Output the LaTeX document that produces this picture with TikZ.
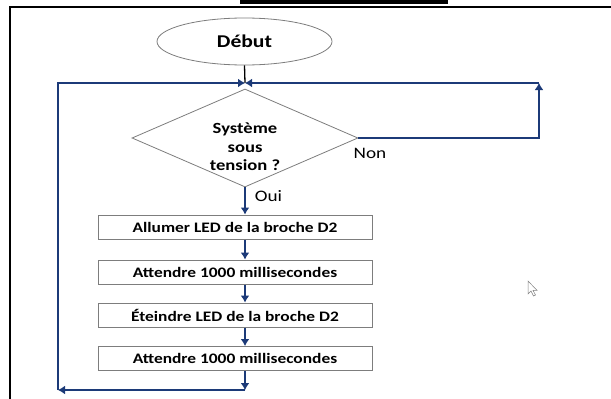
\documentclass[tikz,border=0pt]{standalone}
\usepackage{fontspec}
\setmainfont{Carlito}[FakeStretch=1.2]
\usetikzlibrary{arrows.meta,shapes.geometric}
\definecolor{fleche}{RGB}{28,58,120}
\definecolor{bord}{RGB}{125,125,125}

\begin{document}
\begin{tikzpicture}[x=1pt,y=-1pt]

    % --- Styles ---
    % Tout en points, y vers le bas comme sur la capture
    \tikzset{
        start/.style={draw=bord, ellipse, line width=0.8pt, minimum width=175pt, minimum height=47pt, font=\fontsize{18}{20}\selectfont\bfseries},
        decision/.style={draw=bord, diamond, line width=0.8pt, minimum width=226pt, minimum height=98pt, inner sep=0pt},
        question/.style={font=\fontsize{15.5}{18.5}\selectfont\bfseries, align=center},
        process/.style={draw=bord, line width=1pt, minimum width=274pt, minimum height=24pt, inner sep=0pt, font=\fontsize{14.5}{16}\selectfont\bfseries},
        wire/.style={draw=fleche, line width=2pt},
        flow/.style={wire, -{Latex[length=7pt,width=9pt]}},
        answer/.style={font=\fontsize{16}{18}\selectfont}
    }

    \useasboundingbox (0,0) rectangle (611,399);

    % --- 1. Cadre ---
    \fill (240,0) rectangle (448,4);
    \draw[line width=1.5pt] (10,399) -- (10,7) -- (611,7);

    % --- 2. Blocs ---
    \node[start] (debut) at (244.5,41.5) {Début};
    \coordinate (jn) at (245,83);

    \node[decision] (test) at (245,138) {};
    \node[question] (testtext) at (245,147) {Système\\sous\\tension ?};

    \node[process] (box1) at (235,227) {Allumer LED de la broche D2};
    \node[process] (box2) at (235,272) {Attendre 1000 millisecondes};
    \node[process] (box3) at (235,315) {Éteindre LED de la broche D2};
    \node[process] (box4) at (235,358.5) {Attendre 1000 millisecondes};

    % coins des boucles
    \coordinate (cbr) at (245,390);
    \coordinate (cbl) at (58,390);
    \coordinate (ctl) at (58,83);
    \coordinate (ctr) at (539,83);
    \coordinate (cdr) at (539,138);

    % --- 3. Liaisons ---
    \draw[line width=1.3pt] (debut.south) -- (jn);
    \draw[flow] (test.south) -- (test.south |- box1.north);
    \draw[flow] (box1.south -| jn) -- (box2.north -| jn);
    \draw[flow] (box2.south -| jn) -- (box3.north -| jn);
    \draw[flow] (box3.south -| jn) -- (box4.north -| jn);
    \draw[flow] (box4.south -| jn) -- (cbr);

    % boucle de gauche
    \draw[flow] (cbr) -- (cbl);
    \draw[flow] (cbl) -- (ctl) -- (jn);

    % boucle de droite (Non)
    \draw[flow] (test.east) -- (cdr) -- (ctr);
    \draw[flow] (ctr) -- (jn);

    % --- 4. Réponses ---
    \node[answer] (non) at (370,153) {Non};
    \node[answer] (oui) at (268.5,196) {Oui};

    % --- 5. Curseur ---
    \draw[draw=gray, fill=white, line width=0.5pt, shift={(528,281)}]
        (0,0) -- (0,13) -- (3,10) -- (5.5,15) -- (7.5,14) -- (5,9.3) -- (9,9.3) -- cycle;

\end{tikzpicture}
\end{document}
